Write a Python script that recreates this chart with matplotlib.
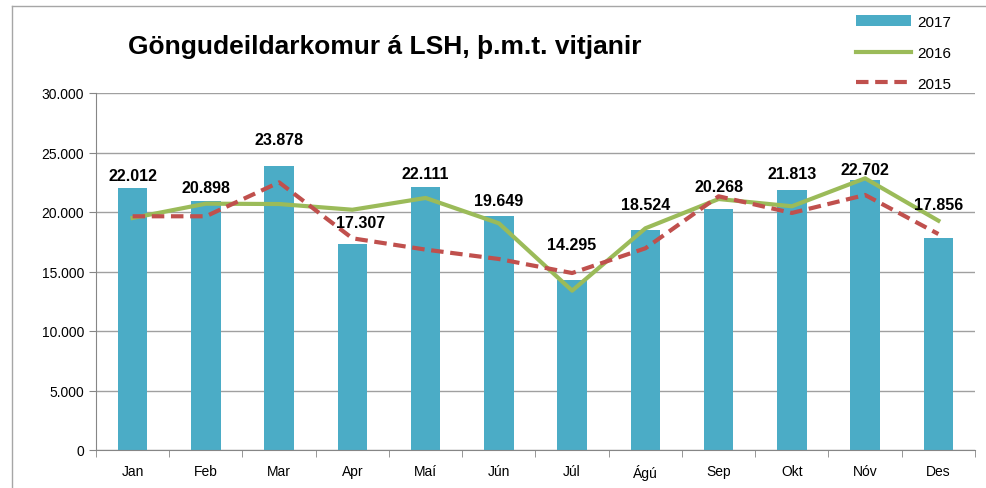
import matplotlib.pyplot as plt
import numpy as np
from matplotlib.lines import Line2D
from matplotlib.ticker import FuncFormatter

plt.rcParams['font.family'] = ['Liberation Sans', 'DejaVu Sans']

months = ["Jan", "Feb", "Mar", "Apr", "Maí", "Jún", "Júl", "Ágú", "Sep", "Okt", "Nóv", "Des"]
v2017 = [22012, 20898, 23878, 17307, 22111, 19649, 14295, 18524, 20268, 21813, 22702, 17856]
v2016 = [19500, 20700, 20670, 20190, 21180, 19050, 13390, 18630, 21090, 20480, 22830, 19270]
v2015 = [19640, 19640, 22490, 17790, 16840, 16050, 14870, 16950, 21320, 19920, 21430, 18150]

# label placement (pixels above bar top to label centre), as in the source sheet
label_dy = [13, 14, 26, 22, 13, 16, 35, 25, 22, 17, 10, 33]
label_dx = [0, 0, 0, 8, 0, 0, 0, 0, 0, 0, 0, 0]

c_bar = "#4BACC6"
c_2016 = "#9BBB59"
c_2015 = "#C0504D"

fig = plt.figure(figsize=(9.87, 4.89), dpi=100)
ax = fig.add_axes([96 / 987, 1 - 451 / 489, 879 / 987, 357 / 489])

x = np.arange(len(months))
ax.bar(x, v2017, width=0.4, color=c_bar, zorder=2, label="2017")
ax.plot(x, v2016, color=c_2016, lw=3, zorder=3, label="2016")
ax.plot(x, v2015, color=c_2015, lw=3, ls=(0, (3, 1.6)), zorder=4, label="2015")

for xi, v, dy, dx in zip(x, v2017, label_dy, label_dx):
    ax.annotate(f"{v:,}".replace(",", "."), (xi, v), xytext=(dx * 0.72, dy * 0.72),
                textcoords="offset points", ha="center", va="center",
                fontsize=11.5, fontweight="bold", zorder=5)

ax.set_xlim(-0.5, 11.5)
ax.set_ylim(0, 30000)
ax.set_yticks(np.arange(0, 30001, 5000))
ax.yaxis.set_major_formatter(FuncFormatter(lambda v, p: f"{int(v):,}".replace(",", ".")))
ax.set_xticks(x)
ax.set_xticklabels(months, fontsize=10)
ax.set_xticks(np.arange(-0.5, 12, 1), minor=True)
ax.tick_params(axis="x", which="major", length=0, pad=10)
ax.tick_params(axis="x", which="minor", length=5, color="#868686")
ax.tick_params(axis="y", labelsize=10, length=5, color="#868686")
ax.grid(axis="y", color="#A0A0A0", lw=1, zorder=0)
for s in ["top", "right"]:
    ax.spines[s].set_visible(False)
for s in ["left", "bottom"]:
    ax.spines[s].set_color("#868686")

fig.text(385 / 987, 1 - 47 / 489, "Göngudeildarkomur á LSH, þ.m.t. vitjanir",
         ha="center", va="center", fontsize=19, fontweight="bold")

handles, labels = ax.get_legend_handles_labels()
order = [labels.index(k) for k in ["2017", "2016", "2015"]]
ax.legend([handles[i] for i in order], [labels[i] for i in order],
          loc="upper left", bbox_to_anchor=(850 / 987, 1 - 10 / 489), bbox_transform=fig.transFigure,
          frameon=False, fontsize=11, handlelength=3.6, handletextpad=0.4,
          labelspacing=1.1, borderaxespad=0)

fig.add_artist(Line2D([12 / 987, 1], [1 - 7 / 489] * 2, color="#A6A6A6", lw=1))
fig.add_artist(Line2D([12 / 987] * 2, [0, 1 - 7 / 489], color="#A6A6A6", lw=1))

fig.savefig("out.png", dpi=100)
